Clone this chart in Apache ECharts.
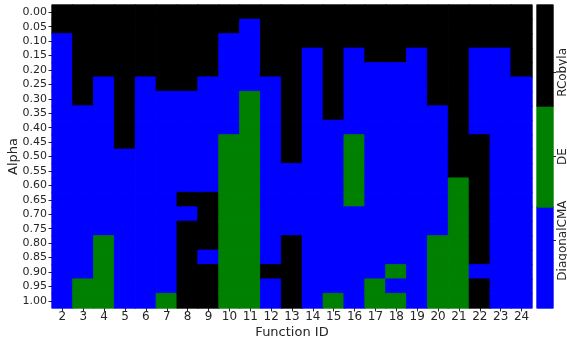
<!DOCTYPE html>
<html>
<head>
<meta charset="utf-8">
<script src="https://cdn.jsdelivr.net/npm/echarts@6/dist/echarts.min.js"></script>
<style>
  html, body { margin: 0; padding: 0; background: #fff; }
  #chart { width: 567px; height: 339px; }
</style>
</head>
<body>
<div id="chart"></div>
<script>
const functionIds = ['2','3','4','5','6','7','8','9','10','11','12','13','14','15','16','17','18','19','20','21','22','23','24'];
const alphas = ['0.00','0.05','0.10','0.15','0.20','0.25','0.30','0.35','0.40','0.45','0.50',
                '0.55','0.60','0.65','0.70','0.75','0.80','0.85','0.90','0.95','1.00'];
const methods = ['DiagonalCMA', 'DE', 'RCobyla'];
const methodColors = ['#0000ff', '#008000', '#000000'];
// where the colour bar puts its three labels, on the 0..2 code scale
const colorbarTicks = [0.445, 1.0, 1.555];

// best method per function, one entry per alpha (0 = DiagonalCMA, 1 = DE, 2 = RCobyla)
const winners = [
  [2,2,0,0,0,0,0,0,0,0,0,0,0,0,0,0,0,0,0,0,0], // 2
  [2,2,2,2,2,2,2,0,0,0,0,0,0,0,0,0,0,0,0,1,1], // 3
  [2,2,2,2,2,0,0,0,0,0,0,0,0,0,0,0,1,1,1,1,1], // 4
  [2,2,2,2,2,2,2,2,2,2,0,0,0,0,0,0,0,0,0,0,0], // 5
  [2,2,2,2,2,0,0,0,0,0,0,0,0,0,0,0,0,0,0,0,0], // 6
  [2,2,2,2,2,2,0,0,0,0,0,0,0,0,0,0,0,0,0,0,1], // 7
  [2,2,2,2,2,2,0,0,0,0,0,0,0,2,0,2,2,2,2,2,2], // 8
  [2,2,2,2,2,0,0,0,0,0,0,0,0,2,2,2,2,0,2,2,2], // 9
  [2,2,0,0,0,0,0,0,0,1,1,1,1,1,1,1,1,1,1,1,1], // 10
  [2,0,0,0,0,0,1,1,1,1,1,1,1,1,1,1,1,1,1,1,1], // 11
  [2,2,2,2,2,0,0,0,0,0,0,0,0,0,0,0,0,0,2,0,0], // 12
  [2,2,2,2,2,2,2,2,2,2,2,0,0,0,0,0,2,2,2,2,2], // 13
  [2,2,2,0,0,0,0,0,0,0,0,0,0,0,0,0,0,0,0,0,0], // 14
  [2,2,2,2,2,2,2,2,0,0,0,0,0,0,0,0,0,0,0,0,1], // 15
  [2,2,2,0,0,0,0,0,0,1,1,1,1,1,0,0,0,0,0,0,0], // 16
  [2,2,2,2,0,0,0,0,0,0,0,0,0,0,0,0,0,0,0,1,1], // 17
  [2,2,2,2,0,0,0,0,0,0,0,0,0,0,0,0,0,0,1,0,1], // 18
  [2,2,2,0,0,0,0,0,0,0,0,0,0,0,0,0,0,0,0,0,0], // 19
  [2,2,2,2,2,2,2,0,0,0,0,0,0,0,0,0,1,1,1,1,1], // 20
  [2,2,2,2,2,2,2,2,2,2,2,2,1,1,1,1,1,1,1,1,1], // 21
  [2,2,2,0,0,0,0,0,0,2,2,2,2,2,2,2,2,2,0,2,2], // 22
  [2,2,2,0,0,0,0,0,0,0,0,0,0,0,0,0,0,0,0,0,0], // 23
  [2,2,2,2,2,0,0,0,0,0,0,0,0,0,0,0,0,0,0,0,0]  // 24
];

// cell colour + same-colour border so neighbouring cells leave no seams
const cellItem = (x, y, v) => ({
  value: [x, y, v],
  itemStyle: { color: methodColors[v], borderColor: methodColors[v], borderWidth: 0.8 }
});

const cells = [];
winners.forEach((col, x) => col.forEach((v, y) => cells.push(cellItem(x, y, v))));
const barCells = methods.map((m, i) => cellItem(0, i, i));

const textColor = '#262626';
const font = 'DejaVu Sans';

const chart = echarts.init(document.getElementById('chart'), null, { renderer: 'canvas' });

const option = {
  animation: false,
  textStyle: { fontFamily: font },
  grid: [
    { left: 52, right: 35, top: 5, bottom: 31, outerBoundsMode: 'none', containLabel: false },
    { left: 537, width: 16, top: 5, bottom: 31, outerBoundsMode: 'none', containLabel: false }
  ],
  xAxis: [
    {
      type: 'category',
      gridIndex: 0,
      data: functionIds,
      name: 'Function ID',
      nameLocation: 'middle',
      nameGap: 18,
      nameMoveOverlap: false,
      nameTextStyle: { color: textColor, fontSize: 13, fontFamily: font },
      axisLine: { show: false },
      axisTick: { show: true, alignWithLabel: true, interval: 0, length: 3.5, lineStyle: { color: textColor } },
      axisLabel: { color: textColor, fontSize: 12, margin: 3, interval: 0, fontFamily: font },
      splitLine: { show: false }
    },
    {
      type: 'category',
      gridIndex: 1,
      data: ['bar'],
      show: false
    }
  ],
  yAxis: [
    {
      type: 'category',
      gridIndex: 0,
      data: alphas,
      inverse: true,
      name: 'Alpha',
      nameLocation: 'middle',
      nameGap: 32,
      nameMoveOverlap: false,
      nameTextStyle: { color: textColor, fontSize: 13, fontFamily: font },
      axisLine: { show: false },
      axisTick: { show: true, alignWithLabel: true, interval: 0, length: 3.5, lineStyle: { color: textColor } },
      axisLabel: { color: textColor, fontSize: 11, margin: 5, interval: 0, fontFamily: font },
      splitLine: { show: false }
    },
    {
      // colour bar cells
      type: 'category',
      gridIndex: 1,
      data: methods,
      position: 'right',
      show: false
    },
    {
      // colour bar labels
      type: 'value',
      gridIndex: 1,
      min: 0,
      max: methods.length - 1,
      position: 'right',
      axisLine: { show: false },
      splitLine: { show: false },
      axisTick: { show: true, customValues: colorbarTicks, length: 3, lineStyle: { color: textColor } },
      axisLabel: {
        color: textColor, fontSize: 12, rotate: 90, margin: 4, fontFamily: font,
        customValues: colorbarTicks,
        formatter: (v) => methods[colorbarTicks.indexOf(v)]
      }
    }
  ],
  series: [
    {
      type: 'heatmap',
      xAxisIndex: 0,
      yAxisIndex: 0,
      data: cells,
      emphasis: { disabled: true }
    },
    {
      type: 'heatmap',
      xAxisIndex: 1,
      yAxisIndex: 1,
      data: barCells,
      emphasis: { disabled: true }
    }
  ]
};

chart.setOption(option);
</script>
</body>
</html>
